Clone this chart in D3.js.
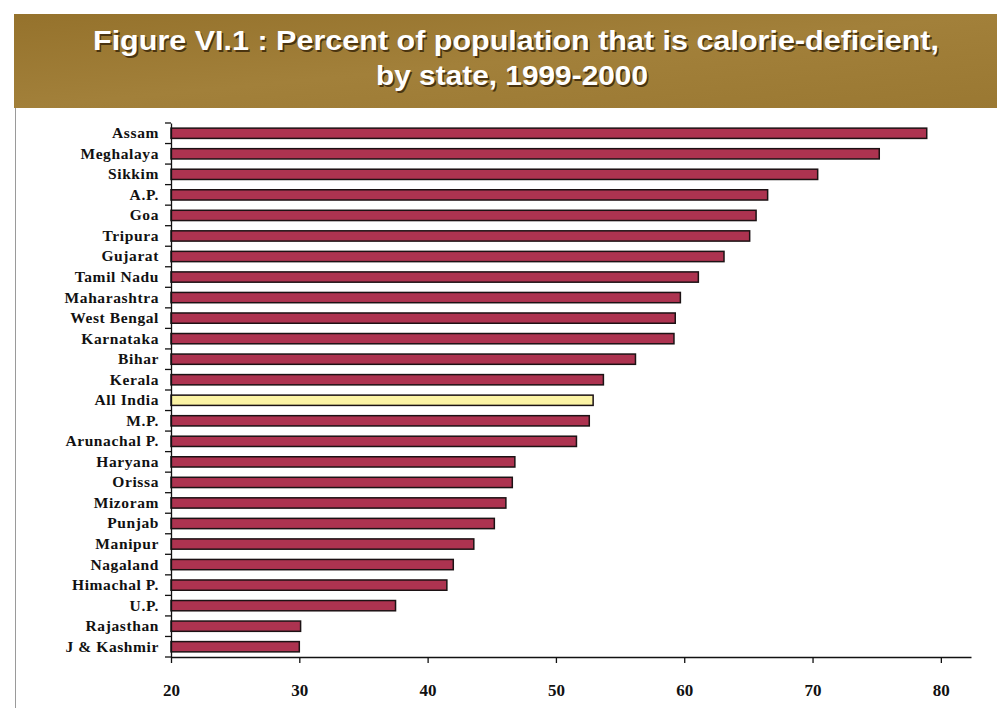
<!DOCTYPE html>
<html>
<head>
<meta charset="utf-8">
<script src="https://cdn.jsdelivr.net/npm/d3@7"></script>
<style>
  html, body { margin: 0; padding: 0; background: #ffffff; }
  svg { display: block; }
</style>
</head>
<body>
<svg id="chart" width="997" height="708"></svg>
<script>
// Percent of population that is calorie-deficient, by state, 1999-2000
const titleLines = [
  "Figure VI.1 : Percent of population that is calorie-deficient,",
  "by state, 1999-2000"
];
const states = [
  "Assam", "Meghalaya", "Sikkim", "A.P.", "Goa", "Tripura", "Gujarat",
  "Tamil Nadu", "Maharashtra", "West Bengal", "Karnataka", "Bihar", "Kerala",
  "All India", "M.P.", "Arunachal P.", "Haryana", "Orissa", "Mizoram",
  "Punjab", "Manipur", "Nagaland", "Himachal P.", "U.P.", "Rajasthan",
  "J & Kashmir"
];
const percents = [
  78.9, 75.2, 70.4, 66.5, 65.6, 65.1, 63.1,
  61.1, 59.7, 59.3, 59.2, 56.2, 53.7,
  52.9, 52.6, 51.6, 46.8, 46.6, 46.1,
  45.2, 43.6, 42.0, 41.5, 37.5, 30.1,
  30.0
];
const highlight = "All India";
const xTicks = [20, 30, 40, 50, 60, 70, 80];

const svg = d3.select("#chart");

// ---- title banner ----
const defs = svg.append("defs");
const grad = defs.append("linearGradient").attr("id", "banner")
  .attr("x1", "0").attr("y1", "0").attr("x2", "1").attr("y2", "1");
grad.append("stop").attr("offset", "0").attr("stop-color", "#95722c");
grad.append("stop").attr("offset", "0.5").attr("stop-color", "#a2803a");
grad.append("stop").attr("offset", "1").attr("stop-color", "#9a7832");

svg.append("rect")
  .attr("x", 14).attr("y", 14).attr("width", 983).attr("height", 94)
  .attr("fill", "url(#banner)");

// thin frame edge on the left below the banner
svg.append("line")
  .attr("x1", 15.5).attr("x2", 15.5).attr("y1", 108).attr("y2", 708)
  .attr("stroke", "#9a9a9a").attr("stroke-width", 1);

const titleSpecs = [
  { text: titleLines[0], cx: 516, base: 50, len: 846 },
  { text: titleLines[1], cx: 512, base: 85, len: 272 }
];
titleSpecs.forEach(t => {
  [["#4a3410", 1.6, 1.6], ["#ffffff", 0, 0]].forEach(([col, dx, dy]) => {
    svg.append("text")
      .attr("x", t.cx + dx).attr("y", t.base + dy)
      .attr("text-anchor", "middle")
      .attr("textLength", t.len)
      .attr("lengthAdjust", "spacingAndGlyphs")
      .attr("font-family", "'Liberation Sans', Arial, sans-serif")
      .attr("font-weight", "bold")
      .attr("font-size", 27)
      .attr("fill", col)
      .text(t.text);
  });
});

// ---- scales ----
const x = d3.scaleLinear().domain([20, 82.35]).range([171, 971]);
const y = d3.scaleBand().domain(states).range([123, 657])
  .paddingInner(0.5).paddingOuter(0.25);

const rows = states.map((s, i) => ({ state: s, value: percents[i] }));

// ---- bars ----
svg.append("g").selectAll("rect")
  .data(rows)
  .join("rect")
  .attr("x", x(20))
  .attr("y", d => y(d.state))
  .attr("width", d => x(d.value) - x(20))
  .attr("height", y.bandwidth())
  .attr("fill", d => d.state === highlight ? "#fbf3a4" : "#ad3350")
  .attr("stroke", "#1c1214")
  .attr("stroke-width", 1.5);

// ---- y axis ----
const yAxis = svg.append("g")
  .attr("transform", `translate(${x(20)},0)`)
  .call(d3.axisLeft(y).tickSize(0).tickPadding(12));
yAxis.select(".domain").attr("stroke", "#111").attr("stroke-width", 1.3);
yAxis.selectAll("text")
  .attr("font-family", "'Liberation Serif', 'Times New Roman', serif")
  .attr("font-weight", "bold")
  .attr("font-size", 15.5)
  .attr("letter-spacing", 0.6)
  .attr("fill", "#111");

// category boundary ticks
const step = y.step();
const edges = d3.range(states.length + 1).map(i => y.range()[0] + i * step);
svg.append("g").selectAll("line")
  .data(edges)
  .join("line")
  .attr("x1", x(20) - 6).attr("x2", x(20))
  .attr("y1", d => d).attr("y2", d => d)
  .attr("stroke", "#111").attr("stroke-width", 1.3);

// ---- x axis ----
const xAxis = svg.append("g")
  .attr("transform", "translate(0,657)")
  .call(d3.axisBottom(x).tickValues(xTicks).tickSize(6).tickSizeOuter(0).tickPadding(21));
xAxis.select(".domain").attr("stroke", "#111").attr("stroke-width", 1.5);
xAxis.selectAll(".tick line").attr("stroke", "#111").attr("stroke-width", 1.3);
xAxis.selectAll("text")
  .attr("font-family", "'Liberation Serif', 'Times New Roman', serif")
  .attr("font-weight", "bold")
  .attr("font-size", 17)
  .attr("fill", "#111");
</script>
</body>
</html>
